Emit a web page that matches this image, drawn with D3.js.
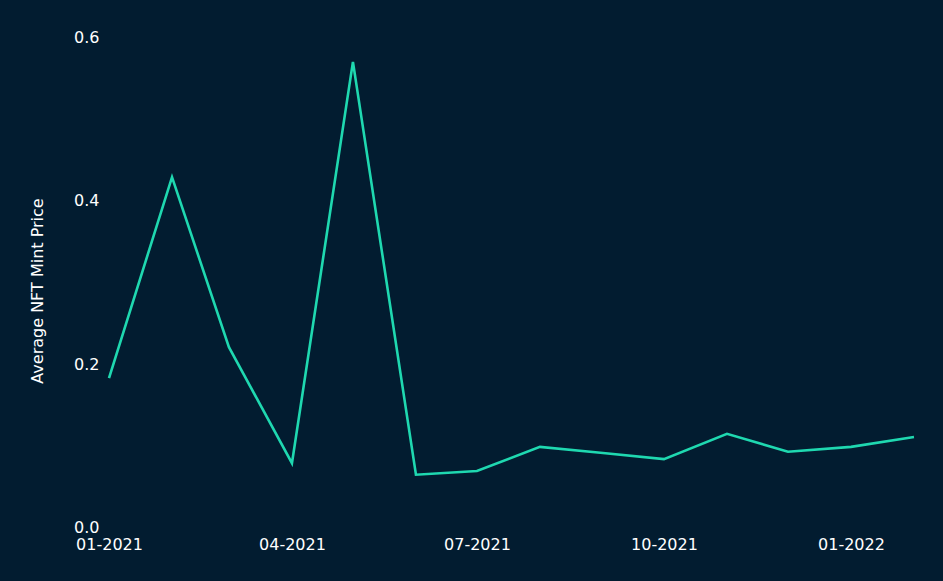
<!DOCTYPE html>
<html>
<head>
<meta charset="utf-8">
<script src="https://cdn.jsdelivr.net/npm/d3@7"></script>
<style>
  html, body { margin: 0; padding: 0; background: #021c30; }
  svg { display: block; }
  text { font-family: "DejaVu Sans", Verdana, sans-serif; }
</style>
</head>
<body>
<svg id="chart" width="943" height="581"></svg>
<script>
const months = ["2021-01","2021-02","2021-03","2021-04","2021-05","2021-06","2021-07",
                "2021-08","2021-09","2021-10","2021-11","2021-12","2022-01","2022-02"];
const avgMintPrice = [0.182, 0.428, 0.220, 0.078, 0.569, 0.064, 0.0685,
                      0.098, 0.0905, 0.083, 0.114, 0.092, 0.098, 0.110];
const yTicks = [0.0, 0.2, 0.4, 0.6];
const xTicks = ["2021-01","2021-04","2021-07","2021-10","2022-01"];

const parse = d3.timeParse("%Y-%m");
const data = months.map((m, i) => ({ date: parse(m), value: avgMintPrice[i] }));

const svg = d3.select("#chart");
const W = 943, H = 581;
svg.append("rect").attr("width", W).attr("height", H).attr("fill", "#021c30");

const x = d3.scaleTime()
  .domain([parse("2021-01"), parse("2022-02")])
  .range([109, 914]);
const y = d3.scaleLinear().domain([0, 0.6]).range([527, 36.5]);

// y tick labels (inside, left aligned)
const yAxis = d3.axisLeft(y).tickValues(yTicks).tickFormat(d3.format(".1f")).tickSize(0).tickPadding(0);
const gy = svg.append("g").attr("transform", "translate(74,0)").call(yAxis);
gy.select(".domain").remove();
gy.selectAll("text")
  .attr("text-anchor", "start")
  .attr("fill", "#ffffff")
  .style("font-size", "16px")
  .attr("x", 0)
  .attr("dy", "0.36em");

// x tick labels
const xAxis = d3.axisBottom(x).tickValues(xTicks.map(parse)).tickFormat(d3.timeFormat("%m-%Y")).tickSize(0).tickPadding(0);
const gx = svg.append("g").attr("transform", "translate(0,538)").call(xAxis);
gx.select(".domain").remove();
gx.selectAll("text")
  .attr("fill", "#ffffff")
  .style("font-size", "16px")
  .attr("dy", "0.75em");

// axis title
svg.append("text")
  .attr("transform", "translate(43,291) rotate(-90)")
  .attr("text-anchor", "middle")
  .attr("fill", "#ffffff")
  .style("font-size", "16px")
  .text("Average NFT Mint Price");

// line
const line = d3.line().x(d => x(d.date)).y(d => y(d.value));
svg.append("path")
  .datum(data)
  .attr("d", line)
  .attr("fill", "none")
  .attr("stroke", "#1fd8b0")
  .attr("stroke-width", 2.6)
  .attr("stroke-linejoin", "miter");
</script>
</body>
</html>
